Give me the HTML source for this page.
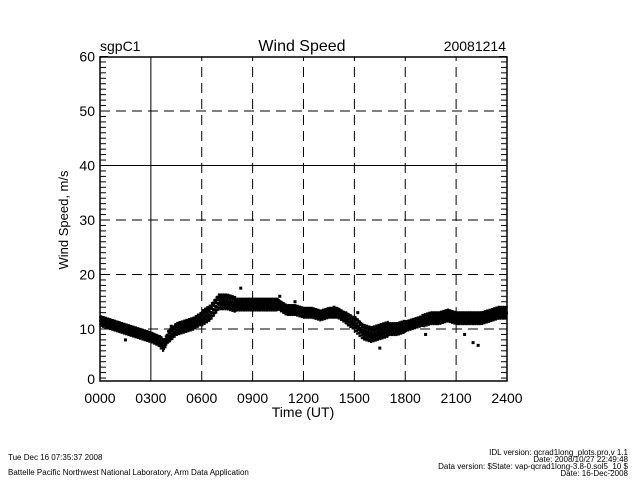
<!DOCTYPE html>
<html><head><meta charset="utf-8"><style>
body{margin:0;background:#fff;}
svg text{font-family:"Liberation Sans",sans-serif;fill:#000;}
</style></head><body>
<svg id="c" width="640" height="480" xmlns="http://www.w3.org/2000/svg">
<rect width="640" height="480" fill="#fff"/>
<text x="100" y="51" font-size="14">sgpC1</text>
<text x="302" y="51" font-size="16" text-anchor="middle">Wind Speed</text>
<text x="506" y="51" font-size="14" text-anchor="end">20081214</text>
<text transform="translate(68,220) rotate(-90)" font-size="13" text-anchor="middle">Wind Speed, m/s</text>
<text x="303" y="417" font-size="14" text-anchor="middle">Time (UT)</text>
<g id="grid"></g><g id="marks"></g><g id="axes"></g>
<text x="8" y="460" font-size="8">Tue Dec 16 07:35:37 2008</text>
<text x="8" y="475" font-size="8">Battelle Pacific Northwest National Laboratory, Arm Data Application</text>
<g font-size="8" text-anchor="end">
<text x="628" y="455">IDL version: qcrad1long_plots.pro,v 1.1</text>
<text x="628" y="462">Date: 2008/10/27 22:49:48</text>
<text x="628" y="469">Data version: $State: vap-qcrad1long-3.8-0.sol5_10 $</text>
<text x="628" y="476">Date: 16-Dec-2008</text>
</g>
</svg>
<script>
const times=[0,0.5,1,1.5,2,2.5,3,3.5,3.75,4,4.5,5,5.5,6,6.5,7,7.5,8,8.5,9,9.5,10,10.5,11,11.5,12,12.5,13,13.5,14,14.5,15,15.5,16,16.5,17,17.5,18,18.5,19,19.5,20,20.5,21,21.5,22,22.5,23,23.5,24];
const speeds=[11.5,11,10.5,10,9.5,9,8.5,7.8,7,8.5,10,10.5,11,12,13,15,15,14.5,14.5,14.5,14.5,14.5,14.5,13.5,13.5,13,13,12.5,13,13,12,11,9.5,9,9.5,10,10,10.5,11,11.5,12,12,12.5,12,12,12,12,12.5,13,13];
const spread=[1,1,1,1,1,1,1,1.2,1,1.2,1.2,1.2,1.2,1.5,1.5,1.5,1.5,1.2,1.2,1.2,1.2,1.2,1,1,1,1,1,1,1,1,1.2,1.5,1.5,1.5,1.5,1.2,1.2,1,1,1.2,1.2,1.2,1.2,1.2,1.2,1.2,1.2,1.2,1.2,1];
const outT=[1.5,4.2,5.8,8.3,10.6,11.5,13.8,15.2,16.5,19.2,21.5,22.0,22.3,23.6];
const outV=[8,10.5,12.5,17.5,16,15,14,13,6.5,9,9,7.5,7,13.5];
const xTicks=["0000","0300","0600","0900","1200","1500","1800","2100","2400"];
const yTicks=[0,10,20,30,40,50,60];
const jit=[0,0.7,-0.6,0.3,-0.9,0.5,-0.2,0.9,-0.4,0.15,-0.75,0.6,-0.35,0.82,-0.1];
const X0=100,X1=507,FB=381,FT=57;
const xs=h=>X0+(X1-X0)*h/24, ys=v=>383.5-5.45*v;
const NS="http://www.w3.org/2000/svg";
function mk(t,a,p){const e=document.createElementNS(NS,t);for(const k in a)e.setAttribute(k,a[k]);document.getElementById(p).appendChild(e);return e;}
xTicks.forEach((l,i)=>{const x=xs(i*3);
 if(i>0&&i<8){const e=mk('line',{x1:x,x2:x,y1:FB,y2:FT,stroke:'#000','stroke-width':1,'stroke-dasharray':i==1?'':'10,6'},'grid');
 
 }
 const t=mk('text',{x:x,y:FB+22,'font-size':14,'text-anchor':'middle'},'axes');t.textContent=l;
 
 });
yTicks.forEach(v=>{const y=Math.min(ys(v),379);
 if(v>0&&v<60){const e=mk('line',{x1:X0,x2:X1,y1:y,y2:y,stroke:'#000','stroke-width':1,'stroke-dasharray':v==40?'':'10,6'},'grid');
 
 }
 const t=mk('text',{x:X0-5,y:y+5,'font-size':14,'text-anchor':'end'},'axes');t.textContent=v;
 
 });
for(let v=1;v<=60;v+=1){const y=ys(v);if(y>FB)continue;const L=v%10==0?8:6;
 mk('line',{x1:X0,x2:X0+L,y1:y,y2:y,stroke:'#000'},'axes');mk('line',{x1:X1,x2:X1-L,y1:y,y2:y,stroke:'#000'},'axes');}
const fr=mk('rect',{x:X0,y:FT,width:X1-X0,height:FB-FT,fill:'none',stroke:'#000','stroke-width':1.5},'axes');


let k=0;
for(let i=0;i<times.length-1;i++){const n=Math.round((times[i+1]-times[i])*110);
 for(let j=0;j<n;j++){const f=j/n;const h=times[i]+(times[i+1]-times[i])*f;
  const c=speeds[i]+(speeds[i+1]-speeds[i])*f, s=spread[i];
  const v=c+jit[k%jit.length]*s; k++;
  const r=mk('rect',{x:xs(h)-1,y:ys(v)-1,width:2.2,height:2.2,fill:'#000'},'marks');
  
  }}
outT.forEach((t,i)=>{const r=mk('rect',{x:xs(t)-1.5,y:ys(outV[i])-1.5,width:3,height:3,fill:'#000'},'marks');
 
 });
</script>
</body></html>
